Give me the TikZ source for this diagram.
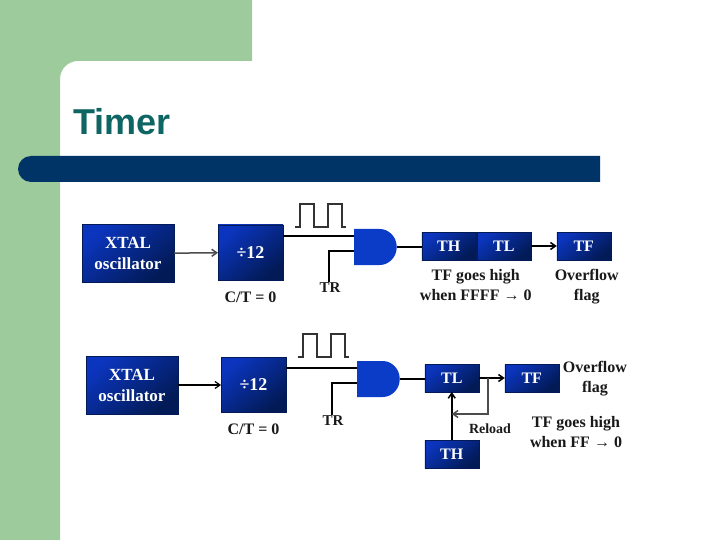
\documentclass[tikz,border=0pt]{standalone}
\usepackage{fontspec}
\setmainfont{Liberation Serif}
\newfontfamily\titlefont{Liberation Sans}
\usepackage{xcolor}
\usetikzlibrary{arrows.meta,positioning,shapes.gates.logic.US}
\definecolor{panelgreen}{HTML}{9DCB9B}
\definecolor{barblue}{HTML}{003366}
\definecolor{titleteal}{HTML}{0F6464}
\definecolor{boxblue}{HTML}{0B35BE}
\definecolor{boxnavy}{HTML}{021A55}
\definecolor{gateblue}{HTML}{0A3CC8}
\tikzset{
  reg box/.style={
    rectangle,
    draw=boxnavy,
    top color=boxblue,
    bottom color=boxnavy,
    shading angle=40,
    text=white,
    font=\bfseries\fontsize{16}{20}\selectfont,
    align=center,
    inner sep=0pt,
    outer sep=0pt,
    minimum width=54pt,
    minimum height=28pt,
  },
  osc box/.style={reg box,minimum width=92pt,minimum height=58pt,font=\bfseries\fontsize{17}{21}\selectfont},
  div box/.style={reg box,minimum width=65pt,minimum height=55pt,font=\bfseries\fontsize{18}{20}\selectfont},
  and block/.style={
    and gate US,
    fill=gateblue,
    draw=none,
    inner sep=0pt,
    outer sep=0pt,
    xscale=0.95,
    minimum width=41pt,
    minimum height=36pt,
  },
  note/.style={
    font=\bfseries\fontsize{16}{20}\selectfont,
    text=black!90,
    align=center,
    inner sep=0pt,
  },
  sig wire/.style={line width=2.6pt,black},
  out wire/.style={line width=1.8pt,black},
  sig arrow/.style={-{Straight Barb[length=5pt,width=7pt]},line width=1.5pt,black!70},
  clock line/.style={line width=1.3pt,black!80},
  pulse train/.pic={
    \draw[clock line] (0,0) -- (5,0) -- (5,-23) -- (19,-23) -- (19,0) -- (33,0)
      -- (33,-23) -- (47,-23) -- (47,0) -- (51,0);
  },
}
\begin{document}
\begin{tikzpicture}[x=1pt,y=-1pt]
  \useasboundingbox (0,0) rectangle (720,540);
  % slide background
  \fill[panelgreen] (0,0) -- (252,0) -- (252,61) [rounded corners=18pt] -- (60,61) [sharp corners] -- (60,540) -- (0,540) -- cycle;
  \fill[barblue] (600,156) [rounded corners=13pt] -- (18,156) -- (18,182) [sharp corners] -- (600,182) -- cycle;
  \node[anchor=base west,inner sep=0pt,text=titleteal,font=\titlefont\bfseries\fontsize{36}{36}\selectfont] (title) at (73,135) {Timer};

  % upper circuit
  \node[osc box] (xtal1) at (128,253.5) {XTAL\\oscillator};
  \node[div box,right=44pt of xtal1,yshift=1pt] (div1) {÷12};
  \node[and block,right=71pt of div1,yshift=5.5pt] (gate1) {};
  \node[reg box,right=25pt of gate1,yshift=1pt] (th1) {TH};
  \node[reg box,right=1pt of th1] (tl1) {TL};
  \node[reg box,right=26pt of tl1] (tf1) {TF};
  \node[note,below=9pt of th1.south east] (high1) {TF goes high\\when FFFF → 0};
  \node[note,below=9pt of tf1,xshift=3pt] (over1) {Overflow\\flag};
  \node[note,below=12pt of div1] (ct1) {C/T = 0};
  \node[note,font=\bfseries\fontsize{15}{18}\selectfont] (tr1) at (330,288) {TR};

  \coordinate (in1a) at ([yshift=16.5pt]div1.east);
  \coordinate (in1b) at ([yshift=-4pt]gate1.west);
  \draw[sig arrow] (xtal1) -- (div1);
  \draw[sig wire] (in1a) -- (in1a -| gate1.west);
  \draw[sig wire] (tr1.north) ++(-1,-1) |- (in1b);
  \draw[out wire] (gate1.east) -- (gate1.east -| th1.west);
  \draw[sig arrow,black] (tl1.east |- tf1.west) -- (tf1.west);
  \pic at (295,227) {pulse train};

  % lower circuit, TL reloads from TH
  \node[osc box] (xtal2) at (132,385) {XTAL\\oscillator};
  \node[div box,right=43pt of xtal2] (div2) {÷12};
  \node[and block,right=71pt of div2,yshift=6pt] (gate2) {};
  \node[reg box,right=25pt of gate2,yshift=1pt] (tl2) {TL};
  \node[reg box,right=26pt of tl2] (tf2) {TF};
  \node[reg box,below=48pt of tl2] (th2) {TH};
  \node[note,right=4pt of tf2,yshift=-1pt] (over2) {Overflow\\flag};
  \node[note] (high2) at (576,432) {TF goes high\\when FF → 0};
  \node[note,below=11pt of div2] (ct2) {C/T = 0};
  \node[note,font=\bfseries\fontsize{15}{18}\selectfont] (tr2) at (333,421) {TR};
  \node[note,font=\bfseries\fontsize{14}{16}\selectfont] (reload) at (490,429) {Reload};
  \coordinate (tap2) at (488,378);
  \coordinate (turn2) at (488,414);

  \coordinate (in2a) at ([yshift=17pt]div2.east);
  \coordinate (in2b) at ([yshift=-4pt]gate2.west);
  \draw[sig arrow,line width=1.2pt,black] (xtal2) -- (div2);
  \draw[sig wire] (in2a) -- (in2a -| gate2.west);
  \draw[sig wire] (tr2.north) ++(-1,-1) |- (in2b);
  \draw[out wire] (gate2.east) -- (gate2.east -| tl2.west);
  \draw[sig arrow,black] (tl2) -- (tf2);
  \draw[sig arrow,black] (th2) -- (tl2);
  \draw[sig arrow] (tap2) -- (turn2) -- (turn2 -| th2.north);
  \pic at (298,357) {pulse train};
\end{tikzpicture}
\end{document}
